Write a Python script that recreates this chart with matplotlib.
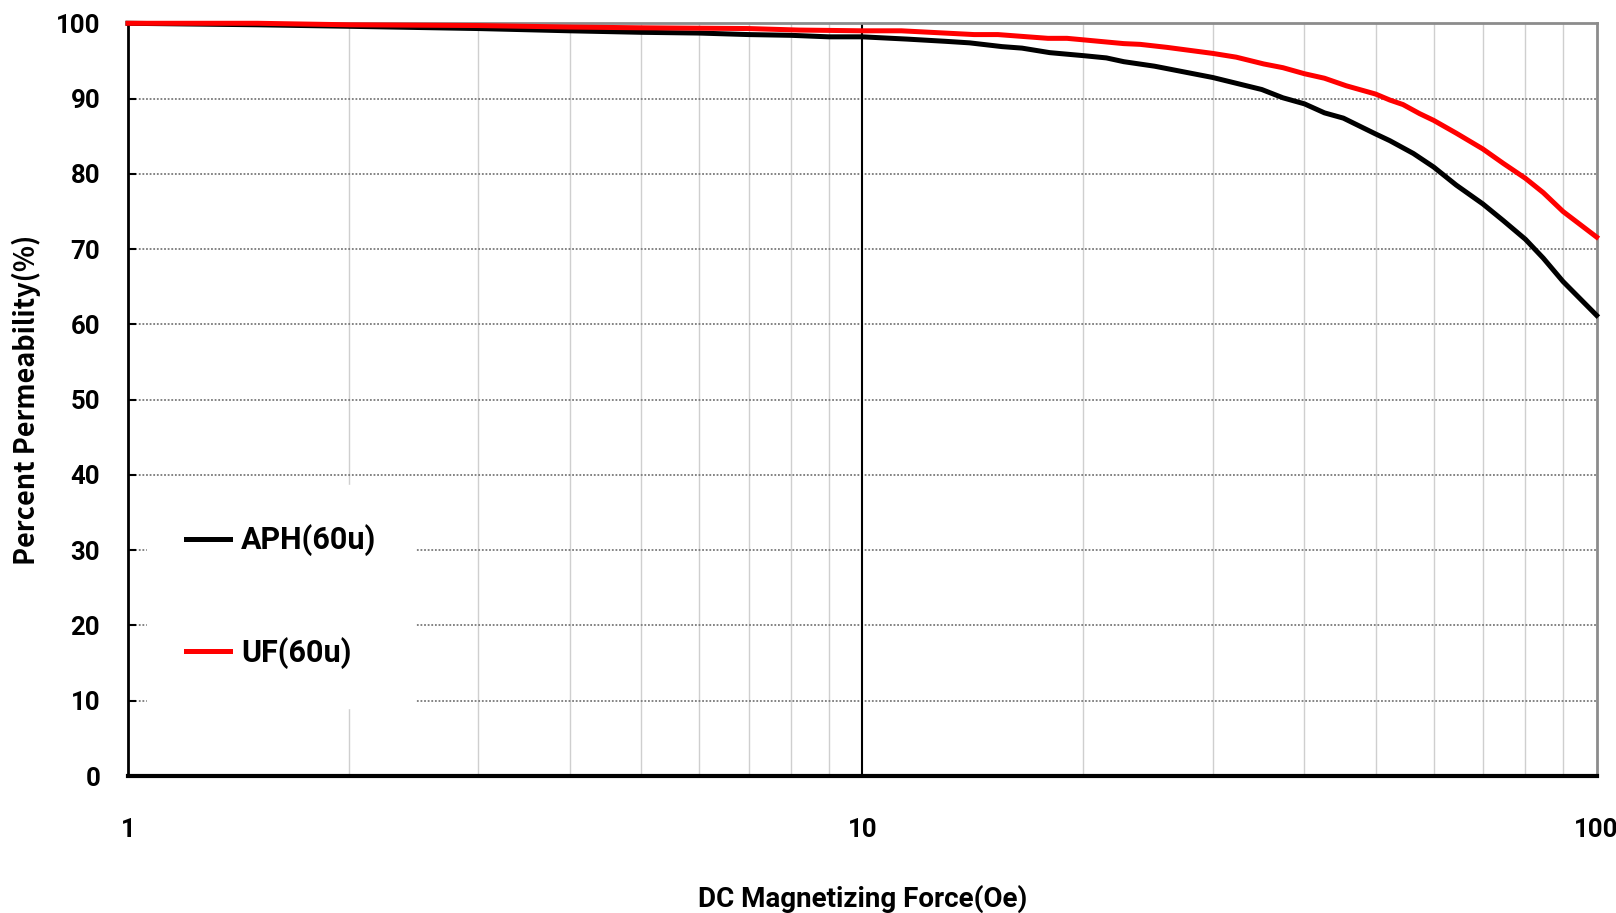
import matplotlib
matplotlib.use("Agg")
import matplotlib.pyplot as plt
from matplotlib.ticker import FixedLocator, NullFormatter

# DC bias curves: percent permeability vs magnetizing force (Oe)
aph_force = [1, 1.5, 2, 3, 4, 5, 6, 7, 8, 9, 10, 11.5, 13, 14, 15.5, 16.5, 18, 20,
             21.5, 22.7, 25, 30, 35, 37.4, 40, 42.6, 45.2, 50, 52.3, 56.3, 60,
             64.4, 70, 74.6, 80, 84.6, 90, 100]
aph_perm = [100, 99.8, 99.6, 99.3, 99.0, 98.8, 98.7, 98.5, 98.4, 98.2, 98.2, 97.9,
            97.6, 97.4, 96.9, 96.7, 96.1, 95.7, 95.4, 94.9, 94.3, 92.8, 91.2, 90.1,
            89.3, 88.1, 87.4, 85.3, 84.4, 82.7, 80.9, 78.5, 76.0, 73.8, 71.3, 68.8,
            65.7, 61.2]

uf_force = [1, 1.5, 2, 3, 4, 5, 7, 8.2, 10, 11.3, 14.2, 15.3, 17.9, 19, 20, 22.7,
            23.9, 26, 30, 32.3, 35.2, 37.4, 40, 42.6, 45.6, 50, 52.3, 54.5, 57.4,
            60, 64.4, 70, 74.6, 80, 84.6, 90, 100]
uf_perm = [100, 100, 99.8, 99.7, 99.5, 99.4, 99.3, 99.1, 99.0, 99.0, 98.5, 98.5,
           98.0, 98.0, 97.8, 97.3, 97.2, 96.8, 96.0, 95.5, 94.6, 94.1, 93.3, 92.7,
           91.7, 90.6, 89.8, 89.2, 88.0, 87.1, 85.4, 83.3, 81.4, 79.4, 77.5, 75.0,
           71.6]

x_ticks = [1, 10, 100]
x_tick_labels = ["1", "10", "100"]
y_ticks = list(range(0, 101, 10))

narrow = ["Roboto", "DejaVu Sans"]
wide = ["Noto Sans CJK KR", "DejaVu Sans"]

fig = plt.figure(figsize=(16.16, 9.13), dpi=100)
ax = fig.add_axes([0.0792, 0.15, 0.9088, 0.8245])

ax.set_xscale("log")
ax.set_xlim(1, 100)
ax.set_ylim(0, 100)

# gridlines: dotted horizontals, pale verticals at the minor decades
ax.yaxis.grid(True, color="#7a7a7a", linestyle=(0, (1, 1)), linewidth=1.3)
ax.xaxis.set_minor_locator(FixedLocator([2, 3, 4, 5, 6, 7, 8, 9,
                                         20, 30, 40, 50, 60, 70, 80, 90]))
ax.xaxis.set_minor_formatter(NullFormatter())
ax.xaxis.grid(True, which="minor", color="#cfcfcf", linewidth=1.0)
ax.axvline(10, color="black", linewidth=1.5, zorder=1.5)
ax.set_axisbelow(True)

ax.plot(aph_force, aph_perm, color="black", linewidth=3.6, label="APH(60u)",
        zorder=3, clip_on=False)
ax.plot(uf_force, uf_perm, color="#ff0000", linewidth=3.6, label="UF(60u)",
        zorder=3, clip_on=False)

ax.set_xticks(x_ticks)
ax.set_xticklabels(x_tick_labels)
ax.set_yticks(y_ticks)
ax.tick_params(axis="x", which="both", length=0, pad=30)
ax.tick_params(axis="y", direction="in", length=6, width=1.5, pad=20)
for lab in ax.get_xticklabels() + ax.get_yticklabels():
    lab.set_fontfamily(narrow)
    lab.set_fontweight("bold")
    lab.set_fontsize(18.5)

ax.spines["left"].set_linewidth(2)
ax.spines["bottom"].set_linewidth(3)
ax.spines["top"].set_color("#8c8c8c")
ax.spines["top"].set_linewidth(2)
ax.spines["right"].set_color("#8c8c8c")
ax.spines["right"].set_linewidth(2)

ax.set_xlabel("DC Magnetizing Force(Oe)", fontfamily=narrow, fontweight="bold",
              fontsize=20)
ax.xaxis.set_label_coords(0.5, -0.144)
ax.set_ylabel("Percent Permeability(%)", fontfamily=wide, fontweight="bold",
              fontsize=19.5)
ax.yaxis.set_label_coords(-0.0595, 0.5)

leg = ax.legend(loc="upper left", bbox_to_anchor=(0.013, 0.386), frameon=True,
                prop={"family": narrow, "weight": "bold", "size": 22},
                handlelength=1.45, handletextpad=0.35, labelspacing=2.65,
                borderpad=1.27, borderaxespad=0)
leg.get_frame().set_facecolor("white")
leg.get_frame().set_edgecolor("white")
leg.get_frame().set_alpha(1)
leg.get_frame().set_boxstyle("square", pad=0)

fig.savefig("out.png", dpi=100)
